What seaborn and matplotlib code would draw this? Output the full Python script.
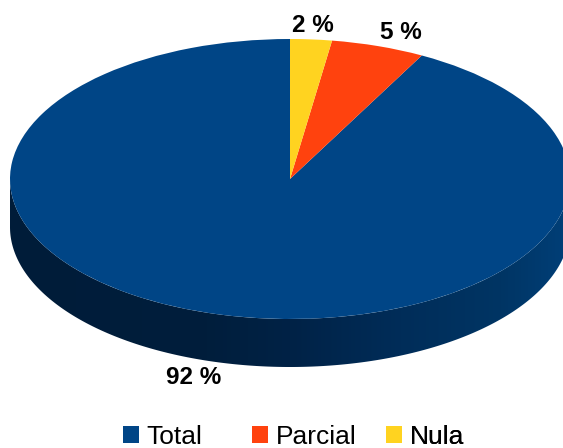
import numpy as np
import matplotlib
matplotlib.use("Agg")
import matplotlib.pyplot as plt
import seaborn as sns
from matplotlib.colors import LinearSegmentedColormap
from matplotlib.patches import Patch, Polygon

categories = ["Total", "Parcial", "Nula"]
values = [92.2, 5.4, 2.4]
value_labels = ["92 %", "5 %", "2 %"]
colors = ["#004586", "#ff420e", "#ffd320"]

W, H = 563, 448
CX, CY, RX, RY, DEPTH = 290, 179, 280, 140, 48

sns.set_theme(style="white")
plt.rcParams["font.family"] = ["Liberation Sans", "DejaVu Sans"]
sns.set_palette(colors)

fig = plt.figure(figsize=(W / 100, H / 100), dpi=100)
ax = fig.add_axes([0, 0, 1, 1])

def px(x, y):
    return (x - CX) / RX, (CY - y) / RY

# side wall: lower half of the disc swept downward, shaded across its width
depth = DEPTH / RY
t = np.linspace(np.pi, 2 * np.pi, 300)
wall = np.r_[np.c_[np.cos(t), np.sin(t)], np.c_[np.cos(t[::-1]), np.sin(t[::-1]) - depth]]
shade = LinearSegmentedColormap.from_list(
    "wall",
    [(0.0, "#001c39"), (0.35, "#001e3c"), (0.5, "#002246"), (0.7, "#002d59"),
     (0.88, "#003564"), (1.0, "#003f78")],
)
img = ax.imshow(np.linspace(0, 1, 400)[None, :], cmap=shade, aspect="auto",
                extent=(-1, 1, -1 - depth, 0.2), zorder=1)
clip = Polygon(wall, closed=True, transform=ax.transData, fc="none", ec="none")
ax.add_patch(clip)
img.set_clip_path(clip)

wedges, _ = ax.pie(values, colors=colors, startangle=90, counterclock=True,
                   radius=1, center=(0, 0), frame=False,
                   wedgeprops=dict(linewidth=0, zorder=2))
ax.set_aspect("auto")
x0, y0 = px(0, H)
x1, y1 = px(W, 0)
ax.set_xlim(x0, x1)
ax.set_ylim(y0, y1)
ax.axis("off")

label_pos = [(194, 377), (401, 33), (313, 26)]
for s, (lx, ly) in zip(value_labels, label_pos):
    ax.text(*px(lx, ly), s, ha="center", va="center", fontsize=17.5, fontweight="bold",
            color="black", zorder=5)

legend_x = [123, 252, 386]
FS = 19
em = FS * 100 / 72
for name, col, lx in zip(categories, colors, legend_x):
    leg = ax.legend(handles=[Patch(facecolor=col, edgecolor="none", label=name)],
                    loc="lower left", bbox_to_anchor=px(lx, 449),
                    bbox_transform=ax.transData, frameon=False, fontsize=FS,
                    borderpad=0, borderaxespad=0, handlelength=16 / em,
                    handleheight=16 / em, handletextpad=7.5 / em, labelcolor="black")
    ax.add_artist(leg)

fig.savefig("out.png", dpi=100, facecolor="white")
